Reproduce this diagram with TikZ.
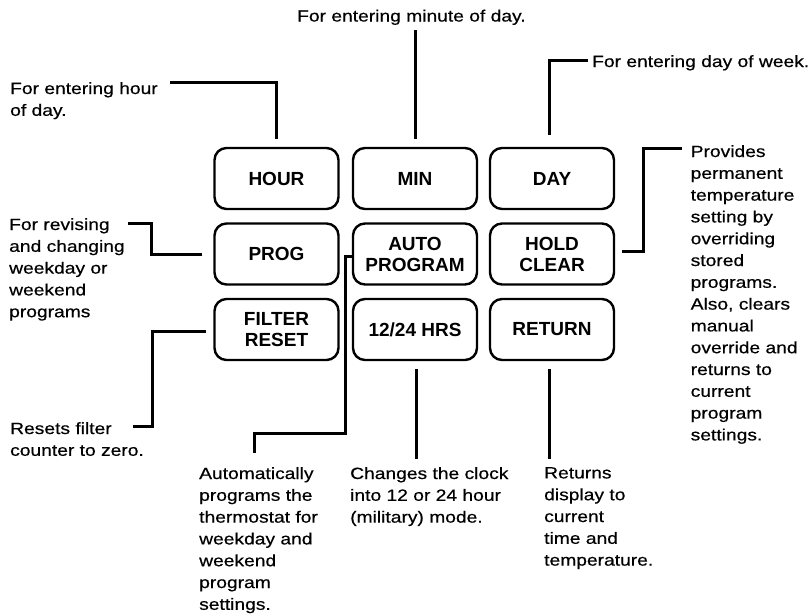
\documentclass[tikz,border=0pt]{standalone}
\usepackage{fontspec}
\setmainfont{Liberation Sans}[FakeStretch=1.18,FakeBold=0.5]
\newfontfamily\keyfont{Liberation Sans}
\begin{document}
\begin{tikzpicture}
	[x=1pt,y=-1pt,
	key/.style={draw,rounded corners=12pt,line width=2.4pt,minimum width=124pt,minimum height=61pt,align=center,font=\keyfont\bfseries\fontsize{19}{21}\selectfont},
	note/.style={anchor=north west,inner sep=0pt,align=left,font=\fontsize{16.3}{21.8}\selectfont},
	lead/.style={line width=3pt}]
	\useasboundingbox (0,0) rectangle (811,615);

	% keys
	\node[key] (hour) at (276.5,178.5) {HOUR};
	\node[key] (min) at (415,178.5) {MIN};
	\node[key] (day) at (552,178.5) {DAY};
	\node[key] (prog) at (276.5,254) {PROG};
	\node[key] (auto) at (415,254) {AUTO\\PROGRAM};
	\node[key] (hold) at (552,254) {HOLD\\CLEAR};
	\node[key] (filter) at (276.5,329.5) {FILTER\\RESET};
	\node[key] (hrs) at (415,329.5) {12/24 HRS};
	\node[key] (ret) at (552,329.5) {RETURN};

	% notes
	\node[note] (mintxt) at (297,9.5) {For entering minute of day.};
	\node[note] (daytxt) at (592,55) {For entering day of week.};
	\node[note] (hourtxt) at (10,82) {For entering hour\\of day.};
	\node[note] (progtxt) at (9,218) {For revising\\and changing\\weekday or\\weekend\\programs};
	\node[note] (filttxt) at (10,422) {Resets filter\\counter to zero.};
	\node[note] (autotxt) at (199,467) {Automatically\\programs the\\thermostat for\\weekday and\\weekend\\program\\settings.};
	\node[note] (hrstxt) at (350,467) {Changes the clock\\into 12 or 24 hour\\(military) mode.};
	\node[note] (rettxt) at (544,467) {Returns\\display to\\current\\time and\\temperature.};
	\node[note] (holdtxt) at (690.5,145) {Provides\\permanent\\temperature\\setting by\\overriding\\stored\\programs.\\Also, clears\\manual\\override and\\returns to\\current\\program\\settings.};

	% leader ends
	\coordinate (hourend) at (170,83);
	\coordinate (minend) at (415,30);
	\coordinate (dayend) at (588,61);
	\coordinate (progend) at (128,223);
	\coordinate (holdend) at (682,149);
	\coordinate (filtend) at (133,426);
	\coordinate (autobend) at (254,433);
	\coordinate (autoend) at (254,453);
	\coordinate (hrsend) at (416,459);
	\coordinate (retend) at (549,459);

	\draw[lead] ([yshift=8pt]hour.north) |- (hourend);
	\draw[lead] ([yshift=8pt]min.north) -- (minend);
	\draw[lead] ([xshift=-3pt,yshift=12pt]day.north) |- (dayend);
	\draw[lead] ([xshift=-11pt]prog.west) -- ++(-51,0) |- (progend);
	\draw[lead] ([xshift=7pt,yshift=3pt]hold.east) -- ++(21,0) |- (holdend);
	\draw[lead] ([xshift=-7pt,yshift=-2pt]filter.west) -- ++(-54,0) |- (filtend);
	\draw[lead] ([yshift=-2pt]auto.west) -- ++(-6,0) |- (autobend) -- (autoend);
	\draw[lead] ([xshift=1pt,yshift=-8pt]hrs.south) -- (hrsend);
	\draw[lead] ([xshift=-3pt,yshift=-8pt]ret.south) -- (retend);
\end{tikzpicture}
\end{document}
